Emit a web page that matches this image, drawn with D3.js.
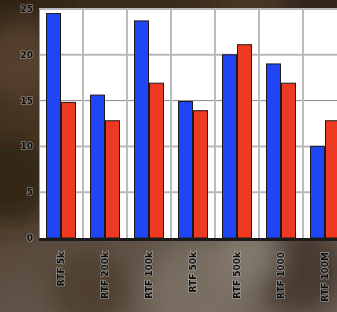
<!DOCTYPE html>
<html><head><meta charset="utf-8">
<script src="https://cdn.jsdelivr.net/npm/d3@7"></script>
<style>html,body{margin:0;padding:0;overflow:hidden;background:#3b2c1e}</style>
</head><body>
<script>
const categories = ["RTF 5k","RTF 200k","RTF 100k","RTF 50k","RTF 500k","RTF 1000","RTF 100M"];
const seriesNames = ["A","B"];
const blueValues = [24.5,15.6,23.7,14.9,20.0,19.0,10.0];
const redValues  = [14.8,12.8,16.9,13.9,21.1,16.9,12.8];
const yTicks = [0,5,10,15,20,25];

const W=337,H=312;
const svg=d3.select("body").append("svg").attr("width",W).attr("height",H);
const defs=svg.append("defs");
const lg=defs.append("linearGradient").attr("id","bg").attr("x1",0).attr("y1",0).attr("x2",0.6).attr("y2",1);
[["0%","#2f2216"],["35%","#4a3725"],["70%","#5e5044"],["100%","#6e6358"]].forEach(s=>lg.append("stop").attr("offset",s[0]).attr("stop-color",s[1]));
svg.append("rect").attr("width",W).attr("height",H).attr("fill","url(#bg)");
const blobs=[[20,60,40,"#5a4330"],[10,180,45,"#2a1e14"],[90,290,40,"#4b3b2c"],[200,290,50,"#7d7266"],[300,270,45,"#3f3125"],[150,5,60,"#3a2a1c"],[320,10,40,"#2b2017"],[250,255,30,"#8a7f74"]];
const rg=defs.append("filter").attr("id","blur").append("feGaussianBlur").attr("stdDeviation",12);
svg.append("g").attr("filter","url(#blur)").selectAll("circle").data(blobs).join("circle")
  .attr("cx",d=>d[0]).attr("cy",d=>d[1]).attr("r",d=>d[2]).attr("fill",d=>d[3]).attr("opacity",0.8);

const x=d3.scaleBand().domain(categories).range([39,39+44*categories.length]).padding(0);
const x1=d3.scaleBand().domain(seriesNames).range([7,37]).padding(0);
const y=d3.scaleLinear().domain([0,25]).range([238,9]);

// plot background
svg.append("rect").attr("x",39).attr("y",y(25)).attr("width",W-39).attr("height",y(0)-y(25)).attr("fill","#ffffff");
// grid
const g=svg.append("g");
g.selectAll(".hg").data(yTicks.filter(t=>t>0)).join("line")
  .attr("x1",39).attr("x2",W).attr("y1",d=>y(d)).attr("y2",d=>y(d))
  .attr("stroke",d=>d===15?"#888":"#b8b8b8").attr("stroke-width",d=>d===15?1:2);
g.selectAll(".vg").data(categories.slice(1)).join("line")
  .attr("x1",d=>x(d)).attr("x2",d=>x(d)).attr("y1",y(25)).attr("y2",y(0))
  .attr("stroke","#bbbbbb").attr("stroke-width",2);
g.append("line").attr("x1",39.5).attr("x2",39.5).attr("y1",y(25)).attr("y2",y(0)).attr("stroke","#999").attr("stroke-width",1);

const data=categories.map((c,i)=>({c,vals:[{s:"A",v:blueValues[i],col:"#1f45f6"},{s:"B",v:redValues[i],col:"#ee3a22"}]}));
svg.append("g").selectAll("g").data(data).join("g").attr("transform",d=>`translate(${x(d.c)},0)`)
  .selectAll("rect").data(d=>d.vals).join("rect")
  .attr("x",d=>x1(d.s)+0.5).attr("width",x1.bandwidth()-1)
  .attr("y",d=>y(d.v)).attr("height",d=>y(0)-y(d.v))
  .attr("fill",d=>d.col).attr("stroke","#1a1a1a").attr("stroke-width",1);

// axis baseline
svg.append("rect").attr("x",39).attr("y",y(0)).attr("width",W-39).attr("height",3).attr("fill","#1b1b1b");

const txtStyle=s=>s.attr("font-family","DejaVu Sans, sans-serif").attr("font-weight","bold").attr("font-size",9)
  .attr("fill","#0d0d0d").attr("stroke","rgba(190,190,190,0.55)").attr("stroke-width",1.6).attr("paint-order","stroke");
svg.append("g").selectAll("text").data(yTicks).join("text")
  .attr("x",33).attr("y",d=>y(d)+3).attr("text-anchor","end").text(d=>d).call(txtStyle);
svg.append("g").selectAll("text").data(categories).join("text")
  .attr("transform",d=>`translate(${x(d)+x.bandwidth()/2+3},252) rotate(-90)`)
  .attr("text-anchor","end").text(d=>d).call(txtStyle);
</script>
</body></html>
